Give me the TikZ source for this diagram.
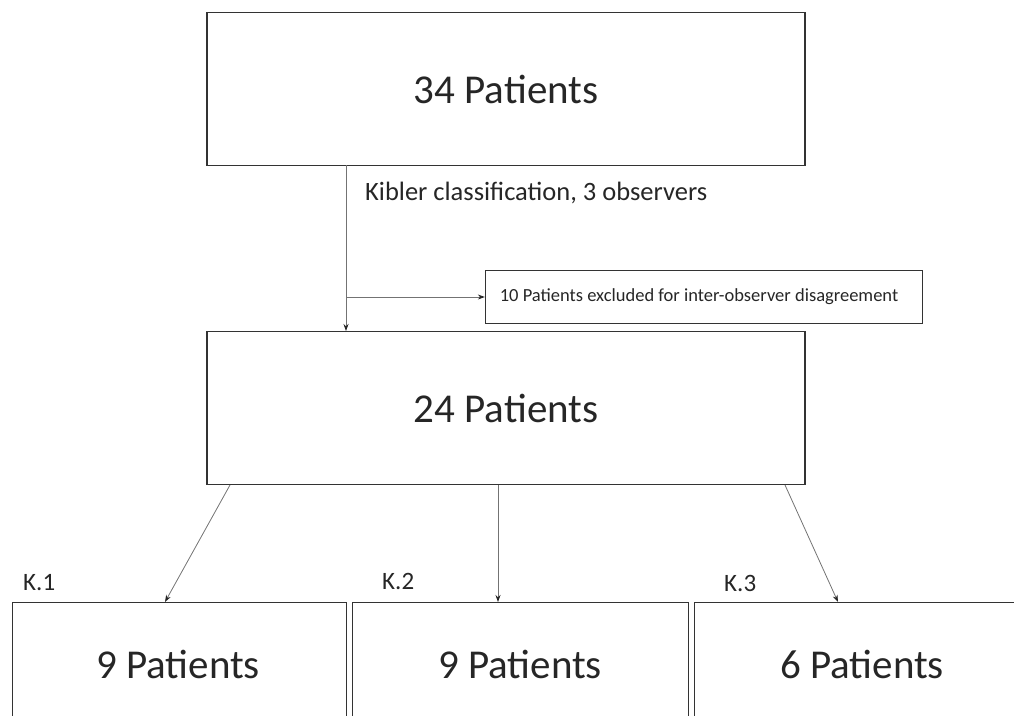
\documentclass[tikz,border=0pt]{standalone}
\usepackage{fontspec}
\setmainfont{Carlito}
\usetikzlibrary{arrows.meta}
\begin{document}
\begin{tikzpicture}[x=1pt,y=-1pt,
  box/.style={draw=black!80,line width=1.3pt,rectangle,inner sep=0pt},
  conn/.style={draw=black!55,line width=0.8pt,-{Stealth[length=7pt,width=5pt,black!85]}},
  big/.style={font=\fontsize{41}{44}\selectfont,text=black!85},
  lab/.style={font=\fontsize{25}{28}\selectfont,text=black!85,inner sep=0pt}]
\useasboundingbox (0,0) rectangle (1014,715);
\node[box,minimum width=598pt,minimum height=153pt,big] (top) at (506,89) {34 Patients};
\node[box,minimum width=598pt,minimum height=153pt,big] (mid) at (506,408) {24 Patients};
\node[box,minimum width=437pt,minimum height=53pt] (excl) at (704,297) {};
\node[font=\fontsize{18.5}{20}\selectfont,text=black!85] (exclt) at (699,297) {10 Patients excluded for inter-observer disagreement};
\node[box,minimum width=334pt,minimum height=140pt,anchor=north west] (b1) at (12,602) {};
\node[box,minimum width=336pt,minimum height=140pt,anchor=north west] (b2) at (352,602) {};
\node[box,minimum width=340pt,minimum height=140pt,anchor=north west] (b3) at (694,602) {};
\node[big] (t1) at (178,664) {9 Patients};
\node[big] (t2) at (520,664) {9 Patients};
\node[big] (t3) at (862,664) {6 Patients};
\node[lab,anchor=west,font=\fontsize{26.5}{29}\selectfont] (kib) at (365,193) {Kibler classification, 3 observers};
\node[lab,anchor=west] (k1) at (23,583) {K.1};
\node[lab,anchor=west] (k2) at (382,581) {K.2};
\node[lab,anchor=west] (k3) at (724,583) {K.3};
\coordinate (s0) at (346,165);
\coordinate (e0) at (346,331);
\coordinate (j) at (346,297);
\draw[conn] (s0) -- (e0);
\draw[conn] (j) -- (excl.west);
\coordinate (m1) at (230,485);
\coordinate (n1) at (165,602);
\coordinate (m2) at (498,485);
\coordinate (n2) at (498,602);
\coordinate (m3) at (785,485);
\coordinate (n3) at (838,602);
\draw[conn] (m1) -- (n1);
\draw[conn] (m2) -- (n2);
\draw[conn] (m3) -- (n3);
\end{tikzpicture}
\end{document}
